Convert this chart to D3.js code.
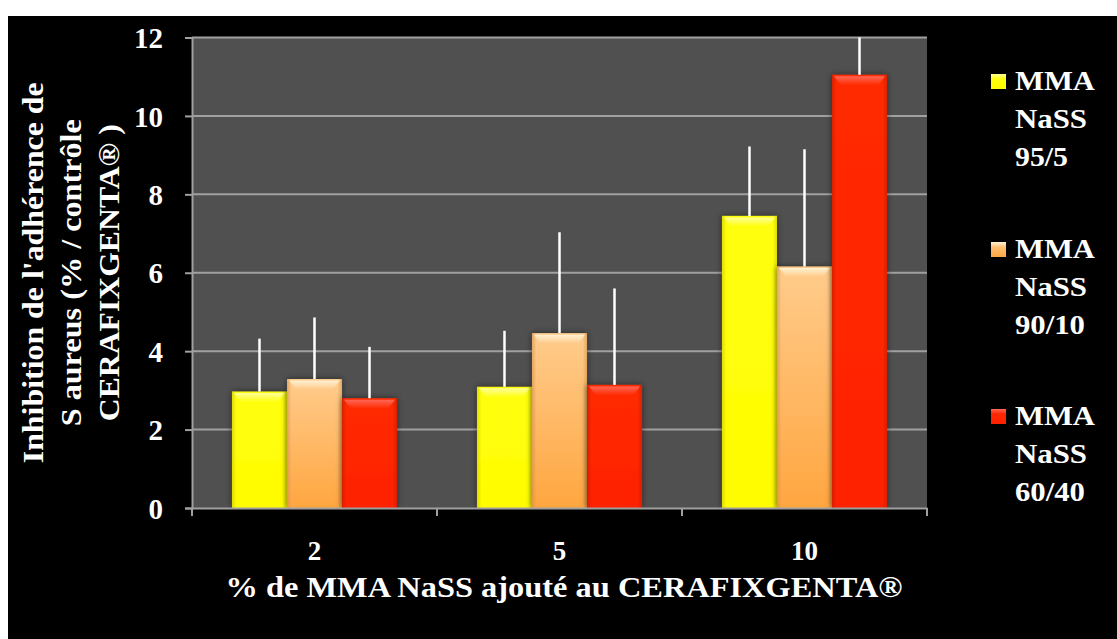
<!DOCTYPE html>
<html>
<head>
<meta charset="utf-8">
<script src="https://cdn.jsdelivr.net/npm/d3@7"></script>
<style>
  html, body { margin: 0; padding: 0; background: #ffffff; }
  svg { display: block; }
</style>
</head>
<body>
<svg id="chart" width="1117" height="639"></svg>
<script>
// Percentage of MMA NaSS added to the cement
const categories = ["2", "5", "10"];
// Series (copolymer ratios)
const seriesKeys = ["95/5", "90/10", "60/40"];
const legendLines = [["MMA", "NaSS", "95/5"], ["MMA", "NaSS", "90/10"], ["MMA", "NaSS", "60/40"]];
// Mean inhibition values per series, one per category
const means95 = [2.97, 3.09, 7.45];
const means90 = [3.29, 4.46, 6.16];
const means60 = [2.80, 3.14, 11.05];
// Upper error (standard deviation) per series
const errors95 = [1.35, 1.43, 1.77];
const errors90 = [1.57, 2.57, 2.99];
const errors60 = [1.31, 2.46, 1.60];
// Y axis ticks
const yTicks = [0, 2, 4, 6, 8, 10, 12];

const yTitleLines = ["Inhibition de l'adhérence de", "S aureus (% / contrôle", "CERAFIXGENTA® )"];
const xTitle = "% de MMA NaSS  ajouté au CERAFIXGENTA®";

const seriesMeans = [means95, means90, means60];
const seriesErrors = [errors95, errors90, errors60];
const rows = [];
categories.forEach((c, ci) => {
  seriesKeys.forEach((s, si) => {
    rows.push({ cat: c, key: s, si, value: seriesMeans[si][ci], err: seriesErrors[si][ci] });
  });
});

// bold white serif text
function serif(sel, size) {
  sel.attr("font-family", "Liberation Serif").attr("font-weight", "bold")
    .attr("font-size", size).attr("fill", "#ffffff");
}
// fit a text element to a given rendered width
function fit(sel, width) {
  sel.attr("textLength", width).attr("lengthAdjust", "spacingAndGlyphs");
}

const svg = d3.select("#chart");
const W = 1117, H = 639;
const plot = { left: 192, right: 927, top: 37.5, bottom: 508 };

// black slide background with white margin on top / left
svg.append("rect").attr("width", W).attr("height", H).attr("fill", "#ffffff");
svg.append("rect").attr("x", 8).attr("y", 16).attr("width", W - 8).attr("height", H - 16).attr("fill", "#000000");

const defs = svg.append("defs");
defs.append("clipPath").attr("id", "plotClip")
  .append("rect").attr("x", plot.left).attr("y", plot.top)
  .attr("width", plot.right - plot.left).attr("height", plot.bottom - plot.top);

const shadow = defs.append("filter").attr("id", "barShadow")
  .attr("x", "-30%").attr("y", "-10%").attr("width", "160%").attr("height", "120%");
shadow.append("feDropShadow").attr("dx", 0).attr("dy", 0).attr("stdDeviation", 3)
  .attr("flood-color", "#000000").attr("flood-opacity", 0.55);

const palette = [
  { top: "#ffff10", bottom: "#fffc00", edge: "#c8bf00", hi: "#ffffa0" },
  { top: "#ffcc8c", bottom: "#ffa640", edge: "#c88a48", hi: "#fff2d6" },
  { top: "#ff2a00", bottom: "#ff2200", edge: "#b81a00", hi: "#ff6a5a" }
];
palette.forEach((p, i) => {
  const g = defs.append("linearGradient").attr("id", "fill" + i)
    .attr("x1", 0).attr("y1", 0).attr("x2", 0).attr("y2", 1);
  g.append("stop").attr("offset", "0%").attr("stop-color", p.top);
  g.append("stop").attr("offset", "100%").attr("stop-color", p.bottom);
  const side = defs.append("linearGradient").attr("id", "side" + i)
    .attr("x1", 0).attr("y1", 0).attr("x2", 1).attr("y2", 0);
  side.append("stop").attr("offset", "0%").attr("stop-color", p.edge).attr("stop-opacity", 0.55);
  side.append("stop").attr("offset", "8%").attr("stop-color", p.edge).attr("stop-opacity", 0);
  side.append("stop").attr("offset", "92%").attr("stop-color", p.edge).attr("stop-opacity", 0);
  side.append("stop").attr("offset", "100%").attr("stop-color", p.edge).attr("stop-opacity", 0.55);
  const hi = defs.append("linearGradient").attr("id", "hi" + i)
    .attr("x1", 0).attr("y1", 0).attr("x2", 0).attr("y2", 1);
  hi.append("stop").attr("offset", "0%").attr("stop-color", p.hi).attr("stop-opacity", 0.95);
  hi.append("stop").attr("offset", "100%").attr("stop-color", p.hi).attr("stop-opacity", 0);
});

// scales
const x0 = d3.scaleBand().domain(categories).range([plot.left, plot.right]).paddingInner(0).paddingOuter(0);
const x1 = d3.scaleBand().domain(seriesKeys).range([0, x0.bandwidth()]).paddingInner(0).paddingOuter(0.727);
const y = d3.scaleLinear().domain([0, 12]).range([plot.bottom, plot.top]);

// plot background
svg.append("rect").attr("x", plot.left).attr("y", plot.top)
  .attr("width", plot.right - plot.left).attr("height", plot.bottom - plot.top)
  .attr("fill", "#505050");

// gridlines
svg.append("g").selectAll("line").data(yTicks.filter(t => t > 0)).join("line")
  .attr("x1", plot.left).attr("x2", plot.right)
  .attr("y1", d => y(d)).attr("y2", d => y(d))
  .attr("stroke", "#a0a0a0").attr("stroke-width", 2);

// bars
const bars = svg.append("g").attr("clip-path", "url(#plotClip)");
const bw = x1.bandwidth();
const barG = bars.selectAll("g.bar").data(rows).join("g").attr("class", "bar")
  .attr("transform", d => `translate(${x0(d.cat) + x1(d.key)},0)`);
barG.append("rect")
  .attr("x", 0).attr("y", d => y(d.value)).attr("width", bw).attr("height", d => y(0) - y(d.value))
  .attr("fill", d => `url(#fill${d.si})`).attr("filter", "url(#barShadow)");
barG.append("rect")
  .attr("x", 0).attr("y", d => y(d.value)).attr("width", bw).attr("height", d => y(0) - y(d.value))
  .attr("fill", d => `url(#side${d.si})`);
barG.append("path")
  .attr("d", d => {
    const t = y(d.value) + 1.5;
    return `M2,${t} L${bw - 2},${t} L${bw - 9},${t + 9} L9,${t + 9} Z`;
  })
  .attr("fill", d => `url(#hi${d.si})`);

// error bars (upper)
bars.selectAll("line.err").data(rows).join("line").attr("class", "err")
  .attr("x1", d => x0(d.cat) + x1(d.key) + bw / 2)
  .attr("x2", d => x0(d.cat) + x1(d.key) + bw / 2)
  .attr("y1", d => y(d.value))
  .attr("y2", d => y(d.value + d.err))
  .attr("stroke", "#ffffff").attr("stroke-width", 2.5);

// axes
const yAxis = svg.append("g").attr("transform", `translate(${plot.left},0)`)
  .call(d3.axisLeft(y).tickValues(yTicks).tickSize(7).tickPadding(22).tickFormat(d3.format("d")));
yAxis.select(".domain").attr("stroke", "#a0a0a0").attr("stroke-width", 2);
yAxis.selectAll(".tick line").attr("stroke", "#a0a0a0").attr("stroke-width", 2);
yAxis.selectAll(".tick text").call(serif, 29).attr("dy", "0.35em");

const xAxis = svg.append("g").attr("transform", `translate(0,${plot.bottom})`)
  .call(d3.axisBottom(x0).tickSize(0).tickPadding(0));
xAxis.select(".domain").attr("stroke", "#a0a0a0").attr("stroke-width", 2);
xAxis.selectAll(".tick text").call(serif, 27).attr("y", 52).attr("dy", 0);
// category boundary ticks
const bounds = categories.map(c => x0(c)).concat([x0(categories[categories.length - 1]) + x0.bandwidth()]);
svg.append("g").selectAll("line").data(bounds).join("line")
  .attr("x1", d => d).attr("x2", d => d)
  .attr("y1", plot.bottom).attr("y2", plot.bottom + 8)
  .attr("stroke", "#a0a0a0").attr("stroke-width", 2);

// axis titles
svg.append("text").attr("x", 564).attr("y", 597)
  .attr("text-anchor", "middle").text(xTitle)
  .call(serif, 29).call(fit, 677);

const yMid = (plot.top + plot.bottom) / 2;
const yTitleX = [43, 81, 119];
const yTitleW = [381, 307, 297];
svg.append("g").selectAll("text").data(yTitleLines).join("text")
  .attr("transform", (d, i) => `translate(${yTitleX[i]},${yMid}) rotate(-90)`)
  .attr("text-anchor", "middle").text(d => d)
  .call(serif, 29)
  .each(function (d, i) { fit(d3.select(this), yTitleW[i]); });

// legend
const legend = svg.append("g");
const itemY = [90, 258, 425];
const lineW = { "MMA": 80, "NaSS": 72, "95/5": 53, "90/10": 70, "60/40": 70 };
seriesKeys.forEach((k, i) => {
  const g = legend.append("g").attr("transform", `translate(991,${itemY[i]})`);
  g.append("rect").attr("x", 0).attr("y", -16).attr("width", 15).attr("height", 15)
    .attr("fill", `url(#fill${i})`).attr("filter", "url(#barShadow)");
  g.append("rect").attr("x", 0).attr("y", -16).attr("width", 15).attr("height", 5)
    .attr("fill", `url(#hi${i})`);
  g.selectAll("text").data(legendLines[i]).join("text")
    .attr("x", 24).attr("y", (d, j) => j * 38)
    .text(d => d)
    .call(serif, 27)
    .each(function (d) { fit(d3.select(this), lineW[d]); });
});
</script>
</body>
</html>
